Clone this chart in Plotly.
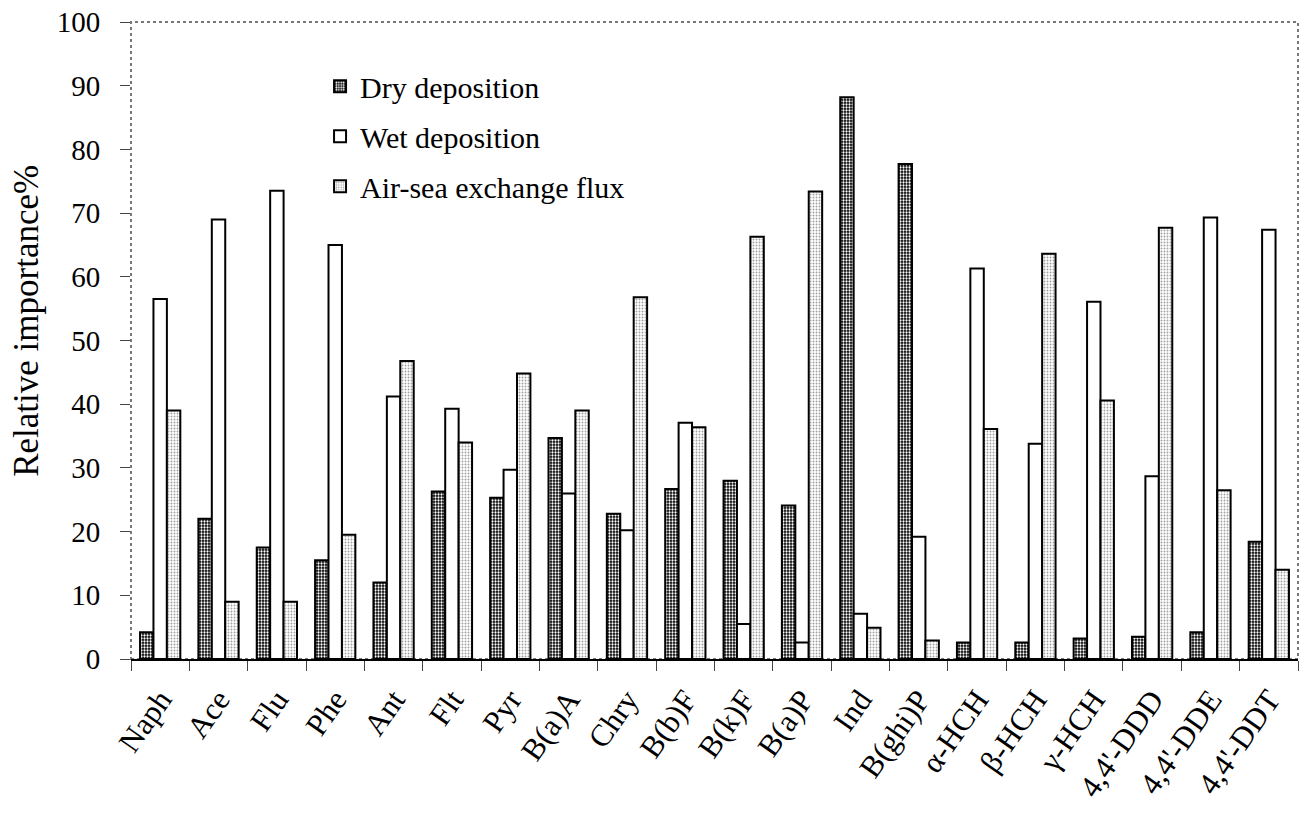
import plotly.graph_objects as go

# Compounds on the category axis
compounds = ["Naph", "Ace", "Flu", "Phe", "Ant", "Flt", "Pyr", "B(a)A", "Chry",
             "B(b)F", "B(k)F", "B(a)P", "Ind", "B(ghi)P", "α-HCH", "β-HCH",
             "γ-HCH", "4,4'-DDD", "4,4'-DDE", "4,4'-DDT"]

# Relative importance (%) of each input pathway
dry_deposition = [4.2, 22.0, 17.5, 15.5, 12.0, 26.3, 25.3, 34.7, 22.8, 26.7,
                  28.0, 24.1, 88.2, 77.7, 2.6, 2.6, 3.2, 3.5, 4.2, 18.4]
wet_deposition = [56.5, 69.0, 73.5, 65.0, 41.2, 39.3, 29.7, 26.0, 20.2, 37.1,
                  5.5, 2.6, 7.1, 19.2, 61.3, 33.8, 56.1, 28.7, 69.3, 67.4]
air_sea_flux = [39.0, 9.0, 9.0, 19.5, 46.8, 34.0, 44.8, 39.0, 56.8, 36.4,
                66.3, 73.4, 4.9, 2.9, 36.1, 63.6, 40.6, 67.7, 26.5, 14.0]

y_ticks = list(range(0, 101, 10))

FONT = "Liberation Serif"
OUTLINE = dict(color="black", width=2)

fig = go.Figure()
fig.add_trace(go.Bar(
    name="Dry deposition", x=compounds, y=dry_deposition, legendgroup="dry",
    marker=dict(color="black", line=OUTLINE,
                pattern=dict(shape=".", bgcolor="black", fgcolor="white",
                             size=3, solidity=0.45, fillmode="replace")),
))
fig.add_trace(go.Bar(
    name="Wet deposition", x=compounds, y=wet_deposition, legendgroup="wet",
    marker=dict(color="white", line=OUTLINE),
))
fig.add_trace(go.Bar(
    name="Air-sea exchange flux", x=compounds, y=air_sea_flux, legendgroup="air",
    marker=dict(color="white", line=OUTLINE,
                pattern=dict(shape=".", bgcolor="white", fgcolor="#a0a0a0",
                             size=3, solidity=0.3, fillmode="replace")),
))

fig.update_layout(
    width=1303, height=822,
    margin=dict(l=131, r=5, t=22, b=163),
    paper_bgcolor="white", plot_bgcolor="white",
    font=dict(family=FONT, size=30, color="black"),
    barmode="group", bargap=0.31, bargroupgap=0,
    showlegend=True,
    legend=dict(x=0.162, y=0.94, xanchor="left", yanchor="top",
                font=dict(family=FONT, size=30, color="black"),
                bgcolor="rgba(0,0,0,0)",
                tracegroupgap=8, traceorder="grouped"),
    xaxis=dict(
        type="category", tickson="boundaries", ticks="outside", ticklen=10,
        tickcolor="#444", tickwidth=1, tickangle=-55, ticklabelstandoff=8,
        showline=True, linecolor="black", linewidth=2,
        showgrid=False, zeroline=False,
        tickfont=dict(family=FONT, size=31, color="black"),
    ),
    yaxis=dict(
        range=[0, 100], tickvals=y_ticks, ticks="outside", ticklen=10,
        tickcolor="#444", tickwidth=1, ticklabelstandoff=14,
        showline=False, showgrid=False, zeroline=False,
        tickfont=dict(family=FONT, size=29, color="black"),
    ),
)

# Y-axis title
fig.add_annotation(text="Relative importance%", textangle=-90,
                   xref="paper", yref="paper", x=-0.0891, y=0.531,
                   xanchor="center", yanchor="middle", showarrow=False,
                   font=dict(family=FONT, size=35, color="black"))

# Dotted plot-area frame
fig.add_shape(type="rect", xref="paper", yref="paper", x0=0, x1=1, y0=0, y1=1,
              line=dict(color="#777", width=2, dash="dot"), layer="below")

fig.write_html("out.html")
